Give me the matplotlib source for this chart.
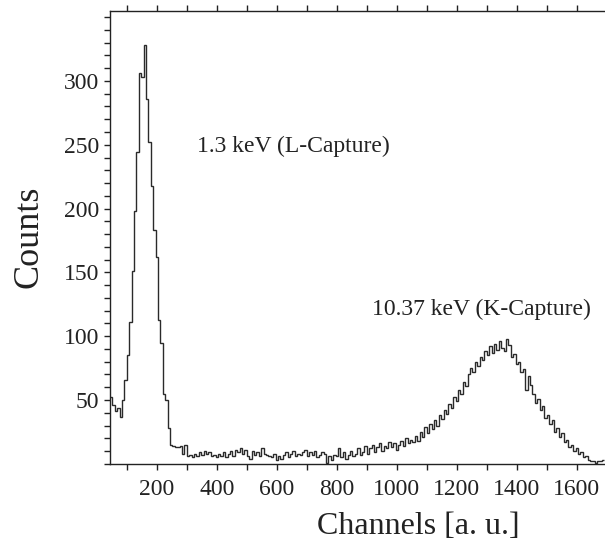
import matplotlib
matplotlib.use("Agg")
import matplotlib.pyplot as plt
from matplotlib.ticker import MultipleLocator, FixedLocator
import numpy as np

plt.rcParams['font.family'] = ['Liberation Serif', 'DejaVu Serif']

# histogram: first bin edge, bin width (channels) and counts per bin
first_channel = 44
bin_width = 8
counts = [
    52, 46, 41, 44, 37, 50, 66, 85, 111, 151, 198, 244, 306, 303, 328, 286,
    252, 218, 183, 162, 113, 95, 55, 50, 28, 15, 14, 13, 13, 14, 8, 15,
    6, 7, 5, 8, 6, 9, 7, 10, 8, 9, 6, 7, 5, 8, 6, 9,
    5, 8, 10, 6, 11, 9, 12, 8, 11, 6, 4, 10, 7, 9, 6, 12,
    8, 7, 6, 5, 8, 3, 6, 4, 7, 9, 5, 8, 10, 6, 8, 7,
    9, 11, 6, 9, 7, 10, 5, 7, 9, 8, 1, 6, 3, 7, 6, 12,
    5, 9, 4, 7, 10, 6, 8, 12, 7, 9, 14, 8, 12, 15, 9, 13,
    16, 10, 14, 12, 17, 13, 16, 11, 15, 18, 14, 20, 16, 19, 17, 22,
    18, 25, 21, 29, 24, 31, 27, 34, 30, 38, 35, 42, 39, 47, 44, 52,
    49, 58, 55, 64, 61, 70, 75, 72, 80, 77, 84, 81, 88, 85, 92, 87,
    94, 89, 96, 91, 88, 98, 93, 84, 86, 78, 80, 72, 74, 58, 69, 62,
    55, 48, 51, 42, 45, 36, 38, 31, 34, 25, 28, 21, 24, 17, 19, 13,
    15, 10, 12, 8, 9, 5, 6, 3, 2, 2, 1, 2, 2, 3,
]
edges = first_channel + bin_width * np.arange(len(counts) + 1)

x_ticklabels = [200, 400, 600, 800, 1000, 1200, 1400, 1600]
y_ticklabels = [50, 100, 150, 200, 250, 300]

fig = plt.figure(figsize=(6.05, 5.5), dpi=100)
ax = fig.add_axes([0.1818, 0.1567, 0.8182, 0.8238])

ax.stairs(counts, edges, color='#2a2a2a', lw=1.0, baseline=None)

ax.set_xlim(44, 1694)
ax.set_ylim(0, 355)

ax.spines['right'].set_visible(False)
for s in ['left', 'bottom', 'top']:
    ax.spines[s].set_linewidth(1.0)
    ax.spines[s].set_color('#222222')

ax.xaxis.set_major_locator(FixedLocator(x_ticklabels))
ax.xaxis.set_minor_locator(MultipleLocator(100))
ax.yaxis.set_major_locator(FixedLocator(y_ticklabels))
ax.yaxis.set_minor_locator(MultipleLocator(10))
ax.tick_params(axis='both', which='both', direction='out', length=4,
               width=1.0, color='#222222', labelsize=17,
               labelcolor='#222222')
ax.tick_params(axis='x', which='both', top=True, bottom=True, pad=7)
ax.tick_params(axis='y', which='both', right=False, pad=4)

ax.text(334, 249, '1.3 keV (L-Capture)', fontsize=17, color='#222222',
        va='center', ha='left')
ax.text(918, 121, '10.37 keV (K-Capture)', fontsize=17, color='#222222',
        va='center', ha='left')

ax.set_xlabel('Channels [a. u.]', fontsize=23, color='#222222')
ax.xaxis.set_label_coords(0.622, -0.106)
ax.set_ylabel('Counts', fontsize=26, color='#222222')
ax.yaxis.set_label_coords(-0.13, 0.5)

fig.savefig('out.png', dpi=100)
